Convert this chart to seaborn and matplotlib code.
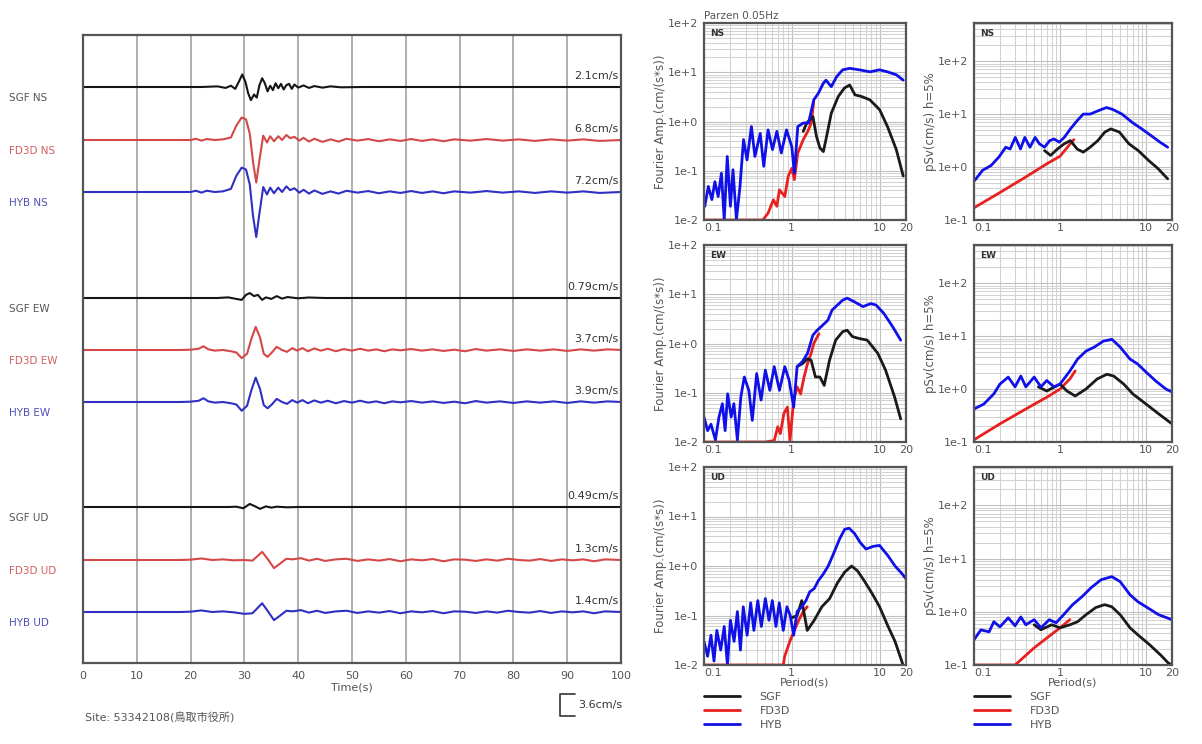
import numpy as np
import matplotlib
matplotlib.use("Agg")
import matplotlib.pyplot as plt
import seaborn as sns
from matplotlib.lines import Line2D
from matplotlib.ticker import LogLocator, FixedLocator, FixedFormatter, NullFormatter

# ---------------- data: velocity waveforms (time s, velocity cm/s) ----------------
SGF_NS = [(0, 0), (22, 0), (25, 0.1), (26.5, -0.15), (27.5, 0.2), (28.3, -0.3), (29, 0.9), (29.6, 2.0),
          (30.2, 0.8), (30.7, -1.0), (31.2, -2.1), (31.8, -1.2), (32.3, -1.7), (32.8, 0.3), (33.3, 1.4),
          (33.8, 0.6), (34.3, -0.7), (34.8, 0.2), (35.3, -0.5), (35.8, 0.6), (36.3, -0.2), (36.8, 0.5),
          (37.3, -0.4), (37.8, 0.3), (38.3, 0.5), (38.8, -0.3), (39.3, 0.4), (40, -0.1), (41, 0.25),
          (42, -0.15), (43, 0.15), (44.5, -0.1), (46, 0.1), (48, -0.05), (52, 0), (100, 0)]
FD3D_NS = [(0, 0), (20, 0), (21, 0.2), (22, -0.1), (23, 0.15), (24.5, 0), (26, 0.1), (27.5, 0.4), (28.5, 2.3),
           (29.5, 3.6), (30.3, 3.3), (31, 1.0), (31.6, -3.5), (32.2, -6.8), (32.8, -3.2), (33.5, 0.7),
           (34.2, -0.4), (34.8, 0.6), (35.5, -0.2), (36.3, 0.6), (37, 0.0), (37.8, 0.8), (38.5, 0.3),
           (39.3, 0.5), (40.2, -0.1), (41, 0.35), (42, -0.25), (43, 0.2), (44.5, -0.3), (46, 0.1),
           (47.5, -0.25), (49, 0.2), (51, -0.1), (53, 0.15), (55, -0.2), (57, 0.1), (59, -0.15), (61, 0.15),
           (63, -0.15), (65, 0.1), (67, -0.2), (69, 0.1), (72, -0.1), (75, 0.15), (78, -0.1), (81, 0.1),
           (84, -0.15), (87, 0.1), (90, -0.1), (93, 0.1), (96, -0.15), (100, 0)]
HYB_NS = [(0, 0), (20, 0), (21, 0.2), (22, -0.1), (23, 0.2), (24.5, 0), (26, 0.1), (27.5, 0.5), (28.5, 2.6),
          (29.5, 3.9), (30.3, 3.6), (31, 1.2), (31.6, -3.8), (32.2, -7.2), (32.8, -3.4), (33.5, 0.8),
          (34.2, -0.4), (34.8, 0.7), (35.5, -0.2), (36.3, 0.7), (37, 0.0), (37.8, 0.9), (38.5, 0.3),
          (39.3, 0.6), (40.2, -0.1), (41, 0.35), (42, -0.25), (43, 0.25), (44.5, -0.3), (46, 0.1),
          (47.5, -0.25), (49, 0.2), (51, -0.1), (53, 0.15), (55, -0.2), (57, 0.1), (59, -0.15), (61, 0.15),
          (63, -0.15), (65, 0.1), (67, -0.2), (69, 0.1), (72, -0.1), (75, 0.15), (78, -0.1), (81, 0.1),
          (84, -0.15), (87, 0.1), (90, -0.1), (93, 0.1), (96, -0.15), (100, 0)]
SGF_EW = [(0, 0), (25, 0), (27, 0.1), (28.5, -0.15), (29.5, -0.3), (30.3, 0.5), (31, 0.79), (31.8, 0.3),
          (32.5, 0.5), (33.3, -0.3), (34, 0.1), (35, -0.15), (36, 0.3), (37, -0.1), (38, 0.15), (40, -0.05),
          (42, 0.08), (45, 0), (100, 0)]
FD3D_EW = [(0, 0), (18, 0), (20, 0.05), (21.5, 0.2), (22.4, 0.6), (23.3, 0.1), (24.5, -0.1), (26, 0.0),
           (27.5, -0.2), (28.5, -0.4), (29.5, -1.3), (30.5, -0.6), (31.3, 1.8), (32.1, 3.7), (32.9, 2.0),
           (33.6, -0.6), (34.3, -1.1), (35.1, -0.4), (36, 0.5), (37, 0.0), (37.9, -0.3), (38.9, 0.3),
           (39.8, -0.1), (40.8, 0.3), (41.8, -0.2), (43, 0.25), (44.2, -0.1), (45.5, 0.2), (47, -0.2),
           (48.5, 0.15), (50, -0.1), (51.5, 0.2), (53, -0.1), (54.5, 0.1), (56, -0.2), (57.5, 0.1),
           (59, -0.05), (61, 0.15), (63, -0.1), (65, 0.1), (67, -0.15), (69, 0.05), (71, -0.2), (73, 0.15),
           (75, -0.1), (77.5, 0.1), (80, -0.15), (82.5, 0.1), (85, -0.1), (87.5, 0.1), (90, -0.15),
           (92.5, 0.1), (95, -0.1), (97.5, 0.1), (100, 0)]
HYB_EW = [(0, 0), (18, 0), (20, 0.05), (21.5, 0.2), (22.4, 0.6), (23.3, 0.1), (24.5, -0.1), (26, 0.0),
          (27.5, -0.2), (28.5, -0.4), (29.5, -1.4), (30.5, -0.6), (31.3, 1.9), (32.1, 3.9), (32.9, 2.1),
          (33.6, -0.5), (34.3, -1.0), (35.1, -0.4), (36, 0.5), (37, 0.0), (37.9, -0.3), (38.9, 0.3),
          (39.8, -0.1), (40.8, 0.3), (41.8, -0.2), (43, 0.25), (44.2, -0.1), (45.5, 0.2), (47, -0.2),
          (48.5, 0.15), (50, -0.1), (51.5, 0.2), (53, -0.1), (54.5, 0.1), (56, -0.2), (57.5, 0.1),
          (59, -0.05), (61, 0.15), (63, -0.1), (65, 0.1), (67, -0.15), (69, 0.05), (71, -0.2), (73, 0.15),
          (75, -0.1), (77.5, 0.1), (80, -0.15), (82.5, 0.1), (85, -0.1), (87.5, 0.1), (90, -0.15),
          (92.5, 0.1), (95, -0.1), (97.5, 0.1), (100, 0)]
SGF_UD = [(0, 0), (27, 0), (28.5, 0.05), (29.8, -0.2), (31, 0.49), (32, 0.1), (32.9, -0.3), (34, 0.1),
          (35, -0.1), (36, 0.05), (38, -0.05), (40, 0), (100, 0)]
FD3D_UD = [(0, 0), (18, 0), (20, 0.05), (22, 0.25), (24, 0.0), (26, 0.1), (28, -0.05), (30, 0.0),
           (31.5, -0.1), (32.4, 0.6), (33.3, 1.3), (34.3, 0.2), (35.5, -1.3), (36.6, -0.6), (37.8, 0.2),
           (39, 0.1), (40.5, 0.3), (42, -0.1), (43.5, 0.2), (45, -0.15), (47, 0.1), (49, 0.2), (51, -0.15),
           (53, 0.1), (55, -0.1), (57, 0.15), (59, -0.2), (61, 0.1), (63, -0.05), (65, 0.15), (67, -0.2),
           (69, 0.1), (71, 0.05), (73, -0.15), (75, 0.1), (77, -0.1), (79, 0.2), (81, 0.0), (83, -0.1),
           (85, 0.15), (87, -0.15), (89, 0.1), (91, -0.05), (93, 0.1), (95, -0.2), (97, 0.1), (100, 0)]
HYB_UD = [(0, 0), (18, 0), (20, 0.05), (22, 0.25), (24, 0.0), (26, 0.1), (28, -0.05), (30, -0.3),
          (31.5, -0.2), (32.4, 0.6), (33.3, 1.4), (34.3, 0.2), (35.5, -1.3), (36.6, -0.6), (37.8, 0.2),
          (39, 0.1), (40.5, 0.3), (42, -0.1), (43.5, 0.2), (45, -0.15), (47, 0.1), (49, 0.2), (51, -0.15),
          (53, 0.1), (55, -0.1), (57, 0.15), (59, -0.2), (61, 0.1), (63, -0.05), (65, 0.15), (67, -0.2),
          (69, 0.1), (71, 0.05), (73, -0.15), (75, 0.1), (77, -0.1), (79, 0.2), (81, 0.0), (83, -0.1),
          (85, 0.15), (87, -0.15), (89, 0.1), (91, -0.05), (93, 0.1), (95, -0.2), (97, 0.1), (100, 0)]

TRACE_NAMES = ["SGF NS", "FD3D NS", "HYB NS", "SGF EW", "FD3D EW", "HYB EW", "SGF UD", "FD3D UD", "HYB UD"]
TRACE_PEAKS = ["2.1cm/s", "6.8cm/s", "7.2cm/s", "0.79cm/s", "3.7cm/s", "3.9cm/s", "0.49cm/s", "1.3cm/s", "1.4cm/s"]
TRACES = [SGF_NS, FD3D_NS, HYB_NS, SGF_EW, FD3D_EW, HYB_EW, SGF_UD, FD3D_UD, HYB_UD]
TIME_TICKS = [0, 10, 20, 30, 40, 50, 60, 70, 80, 90, 100]
SCALE_BAR = 3.6  # cm/s

# ---------------- data: Fourier amplitude spectra (period s, amplitude) ----------------
FOU_NS_SGF = [(1.35, 0.63), (1.48, 0.93), (1.74, 1.26), (1.91, 0.5), (2.09, 0.29), (2.29, 0.245), (2.45, 0.43),
              (2.82, 1.48), (3.39, 3.24), (3.98, 4.79), (4.57, 5.5), (5.25, 3.47), (6.17, 3.24), (7.76, 2.75),
              (10, 1.74), (12.3, 0.79), (15.5, 0.27), (18.6, 0.078)]
FOU_NS_FD3D = [(0.1, 0.01), (0.468, 0.01), (0.537, 0.0138), (0.617, 0.0257), (0.676, 0.019), (0.724, 0.041),
               (0.832, 0.03), (0.912, 0.078), (1.0, 0.112), (1.07, 0.066), (1.17, 0.229), (1.35, 0.427),
               (1.55, 0.676), (1.66, 0.93), (1.78, 2.5)]
FOU_NS_HYB = [(0.102, 0.019), (0.112, 0.048), (0.123, 0.026), (0.133, 0.06), (0.145, 0.03), (0.158, 0.089),
              (0.17, 0.01), (0.184, 0.195), (0.2, 0.019), (0.214, 0.105), (0.234, 0.01), (0.257, 0.048),
              (0.282, 0.43), (0.309, 0.166), (0.347, 0.79), (0.38, 0.195), (0.437, 0.575), (0.479, 0.123),
              (0.537, 0.676), (0.603, 0.269), (0.676, 0.631), (0.759, 0.229), (0.871, 0.676), (1.0, 0.309),
              (1.07, 0.089), (1.17, 0.79), (1.35, 0.93), (1.55, 0.93), (1.78, 2.75), (2.0, 3.7), (2.29, 6.0),
              (2.45, 6.9), (2.82, 5.1), (3.24, 8.1), (3.8, 11.2), (4.57, 12.0), (5.89, 11.2), (7.76, 10.2),
              (10.0, 11.2), (12.3, 10.2), (15.5, 8.9), (18.6, 6.9)]
FOU_EW_SGF = [(1.15, 0.339), (1.32, 0.389), (1.51, 0.49), (1.66, 0.457), (1.86, 0.209), (2.09, 0.209),
              (2.34, 0.141), (2.69, 0.457), (3.16, 1.17), (3.8, 1.74), (4.27, 1.86), (4.9, 1.38), (5.89, 1.26),
              (7.24, 1.17), (9.55, 0.631), (11.7, 0.288), (14.8, 0.083), (17.4, 0.0295)]
FOU_EW_FD3D = [(0.1, 0.01), (0.5, 0.01), (0.631, 0.0107), (0.692, 0.0204), (0.741, 0.0148), (0.813, 0.038),
               (0.891, 0.051), (0.955, 0.0107), (1.05, 0.071), (1.15, 0.132), (1.26, 0.095), (1.38, 0.209),
               (1.51, 0.389), (1.66, 0.631), (1.78, 1.0), (2.04, 1.58)]
FOU_EW_HYB = [(0.1, 0.032), (0.11, 0.017), (0.12, 0.023), (0.135, 0.011), (0.148, 0.032), (0.162, 0.06),
              (0.174, 0.017), (0.186, 0.095), (0.204, 0.032), (0.219, 0.06), (0.24, 0.011), (0.263, 0.083),
              (0.288, 0.209), (0.324, 0.112), (0.355, 0.0275), (0.398, 0.245), (0.447, 0.071), (0.5, 0.288),
              (0.562, 0.112), (0.631, 0.339), (0.724, 0.112), (0.832, 0.339), (0.933, 0.178), (1.05, 0.051),
              (1.15, 0.339), (1.32, 0.427), (1.51, 0.631), (1.74, 1.48), (1.95, 1.86), (2.24, 2.34),
              (2.57, 2.95), (2.88, 4.79), (3.31, 6.03), (3.8, 7.59), (4.27, 8.32), (5.13, 7.08), (6.46, 5.62),
              (7.94, 6.46), (9.12, 6.03), (11.2, 4.07), (14.1, 2.19), (17.4, 1.17)]
FOU_UD_SGF = [(1.0, 0.09), (1.15, 0.1), (1.3, 0.2), (1.5, 0.05), (1.8, 0.08), (2.2, 0.15), (2.7, 0.22),
              (3.3, 0.45), (4.0, 0.75), (4.8, 1.0), (5.6, 0.8), (6.7, 0.5), (8.2, 0.28), (10, 0.15),
              (12.5, 0.06), (15, 0.03), (18.5, 0.01)]
FOU_UD_FD3D = [(0.1, 0.01), (0.8, 0.01), (0.83, 0.015), (0.95, 0.03), (1.07, 0.05), (1.2, 0.08),
               (1.35, 0.12), (1.5, 0.15)]
FOU_UD_HYB = [(0.1, 0.03), (0.11, 0.015), (0.12, 0.04), (0.13, 0.012), (0.14, 0.05), (0.155, 0.02),
              (0.17, 0.06), (0.185, 0.01), (0.2, 0.08), (0.22, 0.03), (0.24, 0.12), (0.26, 0.02), (0.28, 0.15),
              (0.31, 0.04), (0.34, 0.18), (0.37, 0.05), (0.41, 0.2), (0.45, 0.06), (0.5, 0.22), (0.55, 0.08),
              (0.6, 0.2), (0.66, 0.06), (0.72, 0.18), (0.8, 0.05), (0.88, 0.15), (0.96, 0.1), (1.05, 0.04),
              (1.15, 0.12), (1.3, 0.15), (1.45, 0.2), (1.6, 0.3), (1.8, 0.35), (2.0, 0.5), (2.3, 0.7),
              (2.6, 1.0), (3.0, 1.8), (3.5, 3.5), (4.0, 5.5), (4.5, 5.8), (5.2, 4.5), (6.0, 3.0), (7.0, 2.2),
              (8.5, 2.5), (10, 2.6), (12.5, 1.6), (15, 1.0), (18, 0.7), (20, 0.55)]

# ---------------- data: pseudo velocity response spectra h=5% (period s, pSv cm/s) ----------------
PSV_NS_SGF = [(0.661, 2.04), (0.776, 1.66), (0.933, 2.19), (1.12, 2.75), (1.32, 3.16), (1.58, 2.19),
              (1.86, 1.91), (2.24, 2.37), (2.75, 3.16), (3.31, 4.57), (3.89, 5.25), (4.9, 4.57), (6.31, 2.75),
              (8.13, 2.04), (10.7, 1.33), (13.8, 0.93), (17.8, 0.6)]
PSV_NS_FD3D = [(0.1, 0.17), (0.2, 0.33), (0.4, 0.65), (0.7, 1.15), (1.0, 1.6), (1.3, 2.7), (1.45, 3.3)]
PSV_NS_HYB = [(0.102, 0.56), (0.126, 0.87), (0.158, 1.07), (0.195, 1.55), (0.234, 2.37), (0.263, 2.19),
              (0.302, 3.63), (0.347, 2.19), (0.389, 3.63), (0.447, 2.37), (0.513, 3.63), (0.575, 2.75),
              (0.661, 2.37), (0.759, 3.16), (0.851, 3.39), (0.977, 2.95), (1.12, 3.63), (1.32, 5.25),
              (1.58, 7.5), (1.86, 10.0), (2.24, 10.0), (2.75, 11.5), (3.47, 13.3), (4.07, 12.3), (5.25, 10.0),
              (6.92, 6.92), (8.91, 5.25), (11.5, 3.89), (14.5, 2.95), (17.8, 2.37)]
PSV_EW_SGF = [(0.56, 1.1), (0.7, 0.92), (1.0, 1.24), (1.2, 0.92), (1.5, 0.74), (2.0, 1.0), (2.7, 1.55),
              (3.5, 1.9), (4.2, 1.76), (5.5, 1.24), (7.0, 0.81), (10, 0.52), (14, 0.34), (20, 0.22)]
PSV_EW_FD3D = [(0.1, 0.11), (0.2, 0.22), (0.4, 0.42), (0.7, 0.7), (1.0, 1.0), (1.3, 1.55), (1.5, 2.2)]
PSV_EW_HYB = [(0.1, 0.42), (0.13, 0.52), (0.17, 0.81), (0.2, 1.24), (0.25, 1.68), (0.3, 1.1), (0.35, 1.76),
              (0.4, 1.1), (0.5, 1.68), (0.6, 1.1), (0.7, 1.45), (0.85, 1.1), (1.0, 1.24), (1.3, 2.19),
              (1.6, 3.68), (2.0, 5.2), (2.5, 6.2), (3.2, 8.05), (4.0, 8.7), (5.0, 6.2), (6.5, 3.68), (8.0, 2.96),
              (10, 2.09), (13, 1.41), (17, 1.0), (20, 0.88)]
PSV_UD_SGF = [(0.5, 0.57), (0.6, 0.46), (0.8, 0.57), (1.0, 0.5), (1.3, 0.57), (1.6, 0.65), (2.0, 0.88),
              (2.6, 1.2), (3.3, 1.36), (4.0, 1.24), (5.0, 0.88), (6.5, 0.5), (8.0, 0.37), (11, 0.24),
              (15, 0.15), (18, 0.11), (20, 0.1)]
PSV_UD_FD3D = [(0.1, 0.1), (0.3, 0.1), (0.5, 0.21), (0.7, 0.32), (1.0, 0.5), (1.3, 0.71)]
PSV_UD_HYB = [(0.1, 0.296), (0.12, 0.457), (0.15, 0.42), (0.17, 0.65), (0.2, 0.52), (0.25, 0.77), (0.3, 0.545),
              (0.35, 0.8), (0.4, 0.57), (0.5, 0.71), (0.6, 0.5), (0.75, 0.71), (0.9, 0.62), (1.1, 0.88),
              (1.4, 1.36), (1.8, 1.92), (2.3, 2.84), (3.0, 4.0), (4.0, 4.57), (5.0, 3.68), (6.5, 2.09),
              (8.0, 1.55), (10, 1.24), (14, 0.88), (20, 0.71)]

COMPONENTS = ["NS", "EW", "UD"]
MODELS = ["SGF", "FD3D", "HYB"]
FOURIER = [[FOU_NS_SGF, FOU_NS_FD3D, FOU_NS_HYB], [FOU_EW_SGF, FOU_EW_FD3D, FOU_EW_HYB],
           [FOU_UD_SGF, FOU_UD_FD3D, FOU_UD_HYB]]
PSV = [[PSV_NS_SGF, PSV_NS_FD3D, PSV_NS_HYB], [PSV_EW_SGF, PSV_EW_FD3D, PSV_EW_HYB],
       [PSV_UD_SGF, PSV_UD_FD3D, PSV_UD_HYB]]
PERIOD_TICKS = [0.1, 1, 10, 20]
PERIOD_LABELS = ["0.1", "1", "10", "20"]
FOU_TICKS = [1e-2, 1e-1, 1e0, 1e1, 1e2]
FOU_LABELS = ["1e-2", "1e-1", "1e+0", "1e+1", "1e+2"]
PSV_TICKS = [1e-1, 1e0, 1e1, 1e2]
PSV_LABELS = ["1e-1", "1e+0", "1e+1", "1e+2"]

# ---------------- style ----------------
sns.set_theme(style="white")
plt.rcParams["font.family"] = ["DejaVu Sans", "Noto Sans CJK JP"]
W, H = 1202, 744
fig = plt.figure(figsize=(W / 100, H / 100), dpi=100)

TRACE_COLORS = ["#151515", "#d44848", "#2f2fc4"]
LABEL_COLORS = ["#555555", "#d06060", "#5050b8"]
SPEC_COLORS = ["#1a1a1a", "#e82020", "#1010e8"]
TXT = "#555555"
FRAME = "#555555"

def fig_axes(x0, y0, x1, y1):
    return fig.add_axes([x0 / W, 1 - y1 / H, (x1 - x0) / W, (y1 - y0) / H])

# ---------------- left: waveforms ----------------
axL = fig_axes(83, 35, 621, 663)
PX_PER_UNIT = 6.25
baselines_px = [87, 140, 192, 298, 350, 402, 507, 560, 612]
for k, (trace, name, peak) in enumerate(zip(TRACES, TRACE_NAMES, TRACE_PEAKS)):
    off = (663 - baselines_px[k]) / PX_PER_UNIT
    t, v = zip(*trace)
    sns.lineplot(x=np.array(t), y=off + np.array(v), ax=axL, color=TRACE_COLORS[k % 3], lw=1.5,
                 estimator=None, sort=False)
    axL.text(99.6, off + 0.9, peak, ha="right", va="bottom", fontsize=8, color="#333333")
    axL.text(-0.137, off - 1.8, name, transform=axL.get_yaxis_transform(), ha="left", va="center",
             fontsize=7.5, color=LABEL_COLORS[k % 3])
axL.set_xlim(0, 100)
axL.set_ylim(0, 628 / PX_PER_UNIT)
axL.set_xticks(TIME_TICKS)
axL.set_xticklabels([str(x) for x in TIME_TICKS])
axL.set_yticks([])
axL.grid(True, axis="x", color="#a8a8a8", lw=1.3)
axL.tick_params(axis="x", length=0, labelsize=8, labelcolor=TXT, pad=6)
axL.set_xlabel("Time(s)", fontsize=8, color=TXT, labelpad=1)
for s in axL.spines.values():
    s.set_color(FRAME)
    s.set_linewidth(1.6)
# scale bar
sb_bot = (663 - 716) / PX_PER_UNIT
sb_x0, sb_x1 = 88.6, 91.4
axL.plot([sb_x1, sb_x0, sb_x0, sb_x1], [sb_bot + SCALE_BAR, sb_bot + SCALE_BAR, sb_bot, sb_bot],
         color="#333333", lw=1.2, clip_on=False)
axL.text(92.0, sb_bot + SCALE_BAR / 2, f"{SCALE_BAR}cm/s", fontsize=8, color="#333333", va="center",
         ha="left", clip_on=False)
fig.text(85 / W, 1 - 718 / H, "Site: 53342108(鳥取市役所)", fontsize=8, color=TXT, va="center",
         family=["DejaVu Sans", "Noto Sans CJK JP"])

# ---------------- right: spectra ----------------
rows = [(23, 220), (245, 442), (467, 665)]
cols = [(704, 906), (974, 1172)]

def style_spec(ax, yticks, ylabels, ylim, ylabel, comp, show_xlabel):
    ax.set_xscale("log")
    ax.set_yscale("log")
    ax.set_xlim(0.1, 20)
    ax.set_ylim(*ylim)
    ax.xaxis.set_major_locator(FixedLocator(PERIOD_TICKS))
    ax.xaxis.set_major_formatter(FixedFormatter(PERIOD_LABELS))
    ax.xaxis.set_minor_locator(LogLocator(base=10, subs=np.arange(2, 10)))
    ax.xaxis.set_minor_formatter(NullFormatter())
    ax.yaxis.set_major_locator(FixedLocator(yticks))
    ax.yaxis.set_major_formatter(FixedFormatter(ylabels))
    ax.yaxis.set_minor_locator(LogLocator(base=10, subs=np.arange(2, 10)))
    ax.yaxis.set_minor_formatter(NullFormatter())
    ax.grid(True, which="major", color="#c0c0c0", lw=0.8)
    ax.grid(True, which="minor", color="#d2d2d2", lw=0.75)
    ax.set_axisbelow(True)
    ax.tick_params(which="both", length=0, labelsize=8, labelcolor=TXT)
    ax.tick_params(axis="y", pad=4)
    ax.tick_params(axis="x", pad=2)
    first = ax.get_xticklabels()[0]
    first.set_horizontalalignment("left")
    ax.set_ylabel(ylabel, fontsize=8.5, color=TXT, labelpad=1)
    ax.text(0.03, 0.97, comp, transform=ax.transAxes, fontsize=6.5, fontweight="bold", color="#333333",
            ha="left", va="top")
    if show_xlabel:
        ax.set_xlabel("Period(s)", fontsize=8, color=TXT, labelpad=0)
    for s in ax.spines.values():
        s.set_color(FRAME)
        s.set_linewidth(1.6)

for i, comp in enumerate(COMPONENTS):
    y0, y1 = rows[i]
    axF = fig_axes(cols[0][0], y0, cols[0][1], y1)
    axP = fig_axes(cols[1][0], y0, cols[1][1], y1)
    for m in [1, 0, 2]:
        p, a = zip(*FOURIER[i][m])
        sns.lineplot(x=np.array(p), y=np.array(a), ax=axF, color=SPEC_COLORS[m], lw=2.0,
                     estimator=None, sort=False)
        p, a = zip(*PSV[i][m])
        sns.lineplot(x=np.array(p), y=np.array(a), ax=axP, color=SPEC_COLORS[m], lw=2.0,
                     estimator=None, sort=False)
    style_spec(axF, FOU_TICKS, FOU_LABELS, (1e-2, 1e2), "Fourier Amp.(cm/(s*s))", comp, i == 2)
    style_spec(axP, PSV_TICKS, PSV_LABELS, (1e-1, 10 ** 2.72), "pSv(cm/s) h=5%", comp, i == 2)
    if i == 0:
        axF.text(0.0, 1.01, "Parzen 0.05Hz", transform=axF.transAxes, fontsize=7.5, color=TXT,
                 ha="left", va="bottom")
    if i == 2:
        for ax in (axF, axP):
            handles = [Line2D([], [], color=SPEC_COLORS[m], lw=2.0) for m in range(3)]
            ax.legend(handles, MODELS, loc="upper left", bbox_to_anchor=(0.0, -0.135), frameon=False,
                      fontsize=8, handlelength=3.2, handletextpad=1.8, labelspacing=0.36,
                      borderaxespad=0, borderpad=0, labelcolor=TXT)

fig.savefig("out.png", dpi=100)
